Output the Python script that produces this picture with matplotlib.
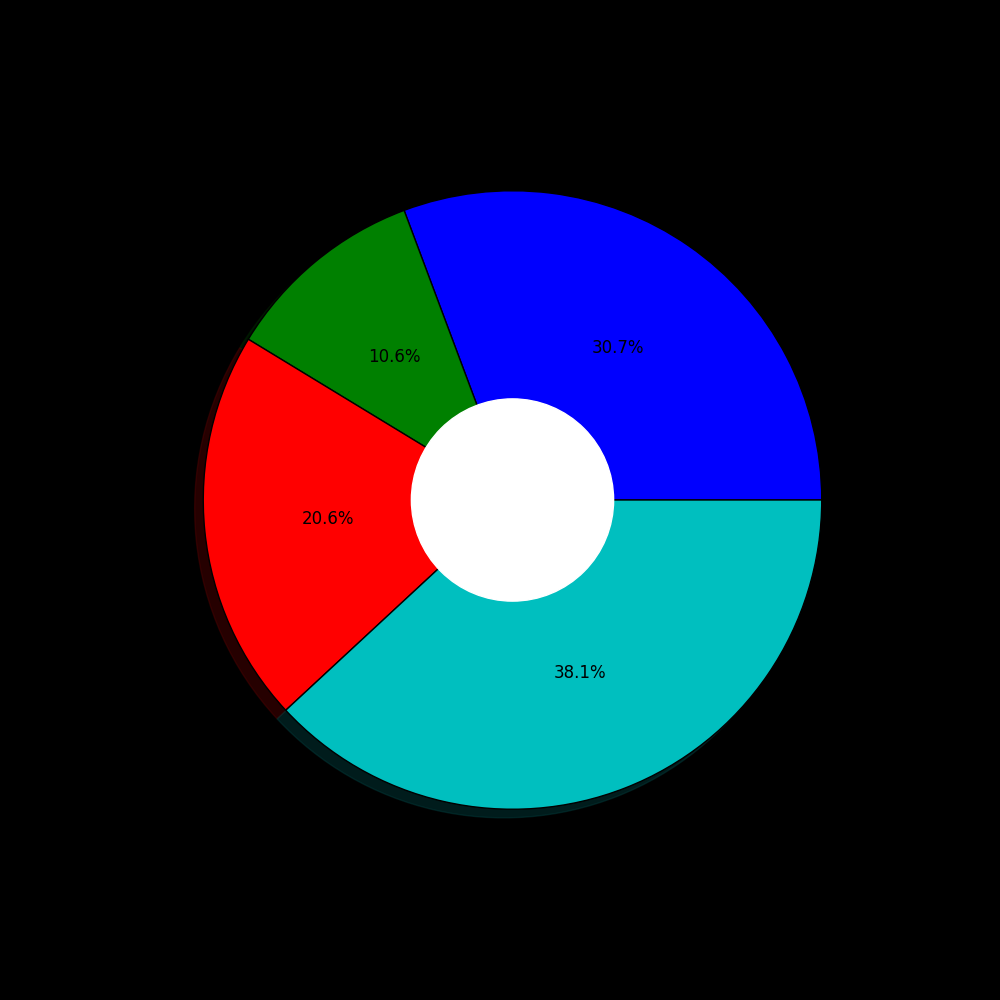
import matplotlib
matplotlib.use("Agg")
import matplotlib.pyplot as plt

shares = [30.7, 10.6, 20.6, 38.1]
slice_colors = ["b", "g", "r", "c"]

fig = plt.figure(figsize=(10, 10), dpi=100, facecolor="black")
ax = fig.add_axes([0.125, 0.115, 0.775, 0.77])
ax.set_facecolor("black")

ax.pie(shares, colors=slice_colors, autopct="%1.1f%%", shadow=True,
       startangle=0, wedgeprops={"edgecolor": "black", "linewidth": 1},
       textprops={"color": "black", "fontsize": 12})

# white hole in the middle
hole = plt.Circle((0, 0), 0.327, color="white")
ax.add_artist(hole)
ax.set_xlim(-1.245, 1.245)
ax.set_ylim(-1.245, 1.245)
ax.set_aspect("equal")

fig.savefig("out.png", facecolor="black")
